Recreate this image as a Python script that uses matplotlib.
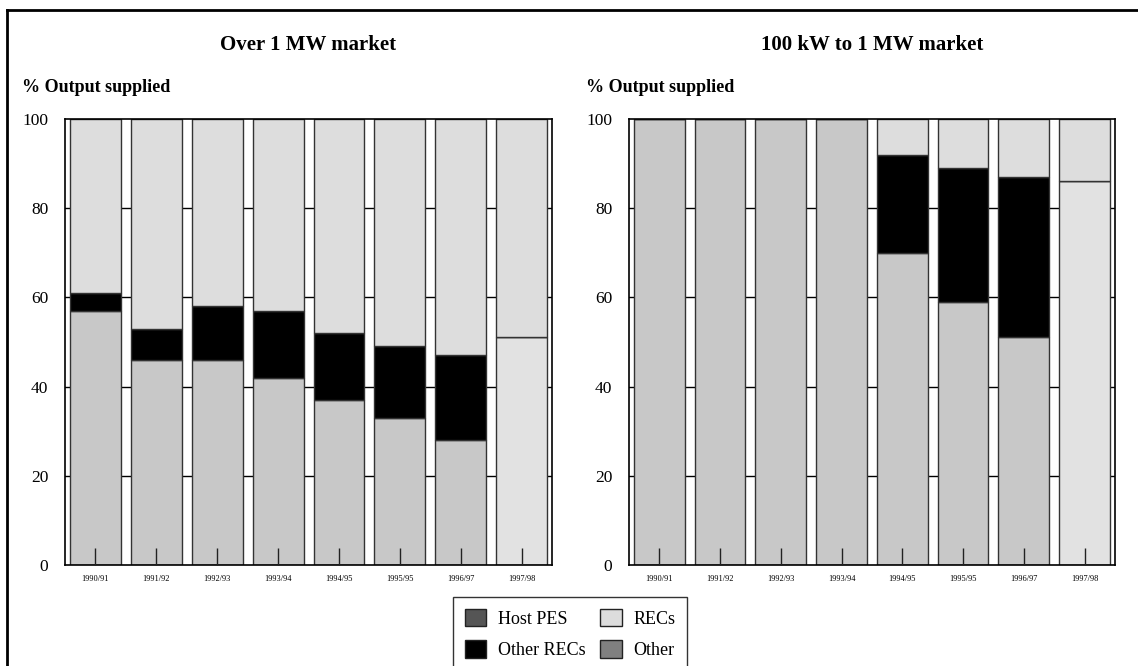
import numpy as np
import matplotlib
matplotlib.use("Agg")
import matplotlib.pyplot as plt
from matplotlib.patches import Patch
from matplotlib.lines import Line2D

plt.rcParams['font.family'] = ['Liberation Serif', 'DejaVu Serif']

years = ["1990/91", "1991/92", "1992/93", "1993/94", "1994/95",
         "1995/95", "1996/97", "1997/98"]

# cumulative tops of each segment (% output supplied)
over1_host = [57, 46, 46, 42, 37, 33, 28, 51]
over1_other_recs = [61, 53, 58, 57, 52, 49, 47, 51]
kw100_host = [100, 100, 100, 100, 70, 59, 51, 86]
kw100_other_recs = [100, 100, 100, 100, 92, 89, 87, 86]
total = [100] * 8

panels = [("Over 1 MW market", over1_host, over1_other_recs),
          ("100 kW to 1 MW market", kw100_host, kw100_other_recs)]

C_HOST = "#c8c8c8"
C_OTHER_RECS = "#000000"
C_RECS = "#dddddd"
C_LAST = "#e2e2e2"
EDGE = "#333333"

fig = plt.figure(figsize=(11.38, 6.66), dpi=100)
positions = [[0.0571, 0.1517, 0.428, 0.6697],
             [0.5527, 0.1517, 0.427, 0.6697]]

x = np.arange(len(years))
for pos, (title, host, orecs) in zip(positions, panels):
    ax = fig.add_axes(pos)
    host = np.array(host)
    orecs = np.array(orecs)
    tot = np.array(total)
    bottom_cols = [C_HOST] * 7 + [C_LAST]
    ax.bar(x, host, width=0.836, color=bottom_cols, edgecolor=EDGE, lw=1, zorder=2)
    ax.bar(x, orecs - host, bottom=host, width=0.836, color=C_OTHER_RECS,
           edgecolor=EDGE, lw=1, zorder=2)
    ax.bar(x, tot - orecs, bottom=orecs, width=0.836, color=C_RECS,
           edgecolor=EDGE, lw=1, zorder=2)
    ax.set_xlim(-0.5, 7.5)
    ax.set_ylim(0, 100)
    ax.set_yticks([0, 20, 40, 60, 80, 100])
    for v in [20, 40, 60, 80]:
        ax.axhline(v, color="black", lw=1, zorder=1)
    ax.set_axisbelow(False)
    ax.set_xticks(x)
    ax.set_xticklabels(years, fontsize=6)
    ax.tick_params(axis="x", direction="in", length=12, width=1, pad=7,
                   color="#222222")
    ax.tick_params(axis="y", direction="in", length=0, labelsize=12.5, pad=12)
    for s in ax.spines.values():
        s.set_linewidth(1.2)
    cx = pos[0] + pos[2] / 2
    fig.text(cx, 1 - 45 / 666, title, ha="center", va="center",
             fontsize=15, fontweight="bold")
    fig.text(pos[0] - 43 / 1138, 1 - 88 / 666, "% Output supplied",
             ha="left", va="center", fontsize=13, fontweight="bold")

handles = [Patch(facecolor="#555555", edgecolor="#222222", label="Host PES"),
           Patch(facecolor="#000000", edgecolor="#222222", label="Other RECs"),
           Patch(facecolor=C_RECS, edgecolor="#222222", label="RECs"),
           Patch(facecolor="#808080", edgecolor="#222222", label="Other")]
leg = fig.legend(handles=handles, loc="upper center", ncol=2,
                 bbox_to_anchor=(0.501, 1 - 597 / 666), fontsize=13,
                 frameon=True, fancybox=False, edgecolor="black",
                 handlelength=1.2, handleheight=1.1, handletextpad=0.65,
                 columnspacing=0.8, borderpad=0.65, labelspacing=0.7,
                 borderaxespad=0)
leg.get_frame().set_linewidth(1)

# outer frame (left and top edges)
fig.add_artist(Line2D([7 / 1138, 7 / 1138], [0, 1 - 10 / 666],
                      transform=fig.transFigure, color="black", lw=2))
fig.add_artist(Line2D([7 / 1138, 1], [1 - 10 / 666, 1 - 10 / 666],
                      transform=fig.transFigure, color="black", lw=2))

fig.savefig("out.png", dpi=100)
